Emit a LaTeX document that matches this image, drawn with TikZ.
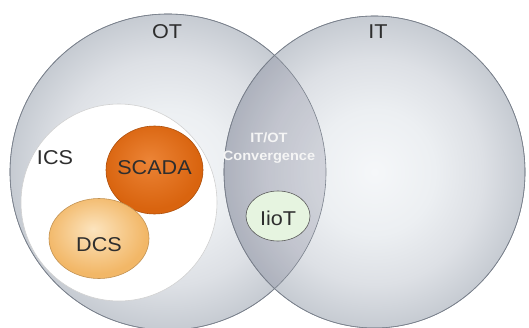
\documentclass[tikz,border=0pt]{standalone}
\usepackage{fontspec}
\setmainfont{Liberation Sans}
\usetikzlibrary{shapes.geometric}
\definecolor{g0}{HTML}{F5F7F9}
\definecolor{g1}{HTML}{ECEFF2}
\definecolor{g2}{HTML}{DDE0E5}
\definecolor{g3}{HTML}{C6CBD2}
\definecolor{outl}{HTML}{7A818C}
\definecolor{txt}{HTML}{2E2E2E}
\definecolor{scA}{HTML}{EC8436}
\definecolor{scB}{HTML}{D9640F}
\definecolor{dcA}{HTML}{FCE4BE}
\definecolor{dcB}{HTML}{F2B767}
\definecolor{iiot}{HTML}{E6F4E0}
\pgfdeclareradialshading{bigshade}{\pgfpoint{0bp}{0bp}}{color(0bp)=(g0); color(10bp)=(g1); color(18bp)=(g2); color(25bp)=(g3); color(50bp)=(g3)}
\pgfdeclareradialshading{scshade}{\pgfpoint{-3bp}{6bp}}{color(0bp)=(scA); color(25bp)=(scB); color(50bp)=(scB)}
\pgfdeclareradialshading{dcshade}{\pgfpoint{-3bp}{6bp}}{color(0bp)=(dcA); color(25bp)=(dcB); color(50bp)=(dcB)}
\newcommand\widetxt[1]{\scalebox{1.08}[1]{#1}}
\tikzset{
  big/.style={ellipse, shading=bigshade, draw=outl, line width=0.6pt, inner sep=0pt},
  lbl/.style={text=txt, font=\fontsize{20}{22}\selectfont, inner sep=0pt},
  ell/.style={ellipse, inner sep=0pt, line width=0.6pt}
}
\begin{document}
\begin{tikzpicture}[x=1pt,y=-1pt]
\useasboundingbox[fill=white] (0,0) rectangle (529,327);
\node[big, minimum width=316pt, minimum height=316pt] (OT) at (168,172) {};
\node[big, minimum width=301pt, minimum height=312pt] (IT) at (374.5,172) {};
\begin{scope}
  \clip (168,172) circle (158pt);
  \fill[black!60!blue!40!black, opacity=0.12] (374.5,172) ellipse [x radius=150.5pt, y radius=156pt];
\end{scope}
\draw[outl, line width=0.6pt] (OT.center) circle (158pt);
\draw[outl, line width=0.6pt] (IT.center) ellipse [x radius=150.5pt, y radius=156pt];
\node[ell, fill=white, draw=black!18, minimum width=196pt, minimum height=197pt] (ICS) at (119,202.5) {};
\node[ell, shading=scshade, draw=scB!80!black, minimum width=97pt, minimum height=88pt] (SCADA) at (154.5,170) {};
\node[ell, shading=dcshade, draw=dcB!80!black, minimum width=100pt, minimum height=80pt] (DCS) at (99,238.5) {};
\node[ell, fill=iiot, draw=black!65, minimum width=64pt, minimum height=50pt] (IIOT) at (278,216) {};
\node[lbl] (tOT) at (167,32) {\widetxt{OT}};
\node[lbl] (tIT) at (378,32) {\widetxt{IT}};
\node[lbl] (tICS) at (55,158) {\widetxt{ICS}};
\node[lbl] (tSC) at (154.5,168) {\widetxt{SCADA}};
\node[lbl] (tDC) at (99,245) {\widetxt{DCS}};
\node[lbl] (tII) at (278,218) {\widetxt{IioT}};
\node[text=white!92!gray, font=\bfseries\fontsize{13.5}{18}\selectfont, align=center, inner sep=0pt] (tConv) at (269,148) {\widetxt{IT/OT}\\\widetxt{Convergence}};
\end{tikzpicture}
\end{document}
